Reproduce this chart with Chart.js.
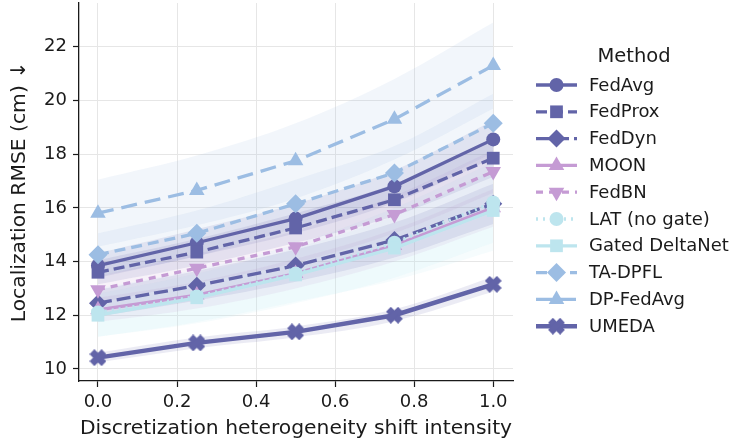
<!DOCTYPE html>
<html>
<head>
<meta charset="utf-8">
<script src="https://cdn.jsdelivr.net/npm/chart.js@4.4.1/dist/chart.umd.min.js"></script>
<style>
  html, body { margin: 0; padding: 0; background: #fff; }
  #wrap { width: 734px; height: 444px; position: relative; }
</style>
</head>
<body>
<div id="wrap"><canvas id="chart" width="734" height="444"></canvas></div>
<script>
// shift intensity levels and RMSE per method
const shiftLevels = [0, 0.25, 0.5, 0.75, 1.0];
const xTicks = [0, 0.2, 0.4, 0.6, 0.8, 1.0];
const yTicks = [10, 12, 14, 16, 18, 20, 22];

const methodNames = ['FedAvg', 'FedProx', 'FedDyn', 'MOON', 'FedBN', 'LAT (no gate)', 'Gated DeltaNet', 'TA-DPFL', 'DP-FedAvg', 'UMEDA'];

const fedAvg   = [13.85, 14.7, 15.6, 16.8, 18.55];
const fedProx  = [13.6, 14.35, 15.25, 16.3, 17.85];
const fedDyn   = [12.45, 13.1, 13.85, 14.8, 16.15];
const moon     = [12.2, 12.75, 13.55, 14.6, 16.0];
const fedBN    = [12.95, 13.75, 14.55, 15.75, 17.35];
const latNoGate = [12.1, 12.7, 13.55, 14.7, 16.2];
const gatedDelta = [12.0, 12.65, 13.5, 14.5, 15.9];
const taDpfl   = [14.25, 15.05, 16.15, 17.3, 19.15];
const dpFedAvg = [15.8, 16.65, 17.75, 19.3, 21.3];
const umeda    = [10.42, 10.97, 11.38, 12.0, 13.15];

// spread (±) of the shaded bands
const fedAvgStd   = [0.45, 0.5, 0.55, 0.6, 0.7];
const fedProxStd  = [0.45, 0.5, 0.55, 0.6, 0.7];
const fedDynStd   = [0.5, 0.55, 0.6, 0.65, 0.75];
const moonStd     = [0.45, 0.5, 0.55, 0.6, 0.7];
const fedBNStd    = [0.5, 0.55, 0.6, 0.7, 0.8];
const latStd      = [0.9, 1.0, 1.1, 1.3, 1.5];
const gatedStd    = [0.8, 0.9, 1.0, 1.2, 1.5];
const taDpflStd   = [0.8, 0.85, 0.9, 1.0, 1.1];
const dpFedAvgStd = [1.25, 1.3, 1.4, 1.5, 1.6];
const umedaStd    = [0.18, 0.2, 0.2, 0.22, 0.28];

const DARK = '#6264a8';
const PINK = '#c59bd4';
const CYAN = '#bde5ee';
const BLUE = '#9cbde3';
const FONT = "'DejaVu Sans', sans-serif";

function xMarker(size, color) {
  const c = document.createElement('canvas');
  c.width = size; c.height = size;
  const g = c.getContext('2d');
  const h = size / 2, t = size * 0.2;
  g.translate(h, h);
  g.rotate(Math.PI / 4);
  g.fillStyle = color;
  g.fillRect(-h, -t, size, 2 * t);
  g.fillRect(-t, -h, 2 * t, size);
  return c;
}

const styles = [
  { color: DARK, dash: [], marker: 'circle', r: 7, rot: 0, width: 3.3 },
  { color: DARK, dash: [11, 5], marker: 'rect', r: 9, rot: 0, width: 3.3 },
  { color: DARK, dash: [14, 5], marker: 'rectRot', r: 9, rot: 0, width: 3.3 },
  { color: PINK, dash: [], marker: 'triangle', r: 9, rot: 0, width: 3.3 },
  { color: PINK, dash: [7, 6], marker: 'triangle', r: 9, rot: 180, width: 3.3 },
  { color: CYAN, dash: [2, 5], marker: 'circle', r: 7, rot: 0, width: 3.3 },
  { color: CYAN, dash: [], marker: 'rect', r: 9, rot: 0, width: 3.3 },
  { color: BLUE, dash: [11, 6], marker: 'rectRot', r: 9.5, rot: 0, width: 3.3 },
  { color: BLUE, dash: [16, 8], marker: 'triangle', r: 9, rot: 0, width: 3.3 },
  { color: DARK, dash: [], marker: xMarker(17, DARK), r: 8, rot: 0, width: 4.5 }
];

const seriesValues = [fedAvg, fedProx, fedDyn, moon, fedBN, latNoGate, gatedDelta, taDpfl, dpFedAvg, umeda];
const seriesStd = [fedAvgStd, fedProxStd, fedDynStd, moonStd, fedBNStd, latStd, gatedStd, taDpflStd, dpFedAvgStd, umedaStd];

function alpha(hex, a) {
  const n = parseInt(hex.slice(1), 16);
  return `rgba(${n >> 16},${(n >> 8) & 255},${n & 255},${a})`;
}

const datasets = [];
// bands first (drawn underneath)
seriesValues.forEach((vals, i) => {
  const s = styles[i];
  const sd = seriesStd[i];
  datasets.push({
    label: '_lo' + i, order: 100,
    data: shiftLevels.map((x, k) => ({ x, y: vals[k] - sd[k] })),
    borderWidth: 0, pointRadius: 0, fill: false, tension: 0.35
  });
  datasets.push({
    label: '_hi' + i, order: 100,
    data: shiftLevels.map((x, k) => ({ x, y: vals[k] + sd[k] })),
    borderWidth: 0, pointRadius: 0, fill: '-1',
    backgroundColor: alpha(s.color, 0.13), tension: 0.35
  });
});
seriesValues.forEach((vals, i) => {
  const s = styles[i];
  datasets.push({
    label: methodNames[i], order: 10 - i,
    data: shiftLevels.map((x, k) => ({ x, y: vals[k] })),
    borderColor: s.color, backgroundColor: s.color,
    borderWidth: s.width, borderDash: s.dash,
    pointStyle: s.marker, pointRadius: s.r, pointHoverRadius: s.r,
    pointRotation: s.rot, pointBorderWidth: 0,
    fill: false, tension: 0
  });
});

const legendPlugin = {
  id: 'methodLegend',
  afterDraw(chart) {
    const ctx = chart.ctx;
    ctx.save();
    ctx.fillStyle = '#1a1a1a';
    ctx.font = `19.5px ${FONT}`;
    ctx.textAlign = 'center';
    ctx.textBaseline = 'middle';
    ctx.fillText('Method', 634, 57);
    ctx.textAlign = 'left';
    ctx.font = `18px ${FONT}`;
    methodNames.forEach((name, i) => {
      const s = styles[i];
      const y = 85 + i * 26.8;
      ctx.save();
      ctx.strokeStyle = s.color;
      ctx.lineWidth = s.width;
      ctx.setLineDash(s.dash);
      ctx.beginPath();
      ctx.moveTo(536, y);
      ctx.lineTo(577, y);
      ctx.stroke();
      ctx.restore();
      ctx.save();
      ctx.fillStyle = s.color;
      Chart.helpers.drawPoint(ctx, {
        pointStyle: s.marker, radius: s.r, rotation: s.rot, borderWidth: 0
      }, 556.5, y);
      ctx.restore();
      ctx.fillStyle = '#1a1a1a';
      ctx.fillText(name, 589, y + 1);
    });
    ctx.restore();
  }
};

new Chart(document.getElementById('chart'), {
  type: 'line',
  data: { datasets },
  plugins: [legendPlugin],
  options: {
    responsive: false,
    animation: false,
    layout: { autoPadding: false, padding: { left: 0, top: 3, right: 221, bottom: 0 } },
    plugins: {
      legend: { display: false },
      tooltip: { enabled: false },
      filler: { propagate: false }
    },
    scales: {
      x: {
        type: 'linear', min: -0.048, max: 1.05,
        afterBuildTicks: (sc) => { sc.ticks = xTicks.map(v => ({ value: v })); },
        afterFit: (sc) => { sc.height = 63; sc.paddingLeft = 0; sc.paddingRight = 0; },
        ticks: {
          color: '#1a1a1a', font: { family: FONT, size: 18 }, padding: 5,
          maxRotation: 0, callback: (v) => v.toFixed(1)
        },
        grid: { color: '#e6e6e6', lineWidth: 1, tickColor: '#1a1a1a', tickLength: 6, tickWidth: 1.2 },
        border: { color: '#1a1a1a', width: 1.3 },
        title: {
          display: true, text: 'Discretization heterogeneity shift intensity',
          color: '#1a1a1a', font: { family: FONT, size: 20.3 }, padding: { top: 0, bottom: 3 }
        }
      },
      y: {
        type: 'linear', min: 9.55, max: 23.63,
        afterBuildTicks: (sc) => { sc.ticks = yTicks.map(v => ({ value: v })); },
        afterFit: (sc) => { sc.width = 79; sc.paddingTop = 0; sc.paddingBottom = 0; },
        ticks: { color: '#1a1a1a', font: { family: FONT, size: 18 }, padding: 6 },
        grid: { color: '#e6e6e6', lineWidth: 1, tickColor: '#1a1a1a', tickLength: 6, tickWidth: 1.2 },
        border: { color: '#1a1a1a', width: 1.3 },
        title: {
          display: true, text: 'Localization RMSE (cm) ↓',
          color: '#1a1a1a', font: { family: FONT, size: 20.3 }, padding: { top: 8, bottom: 0 }
        }
      }
    }
  }
});
</script>
</body>
</html>
